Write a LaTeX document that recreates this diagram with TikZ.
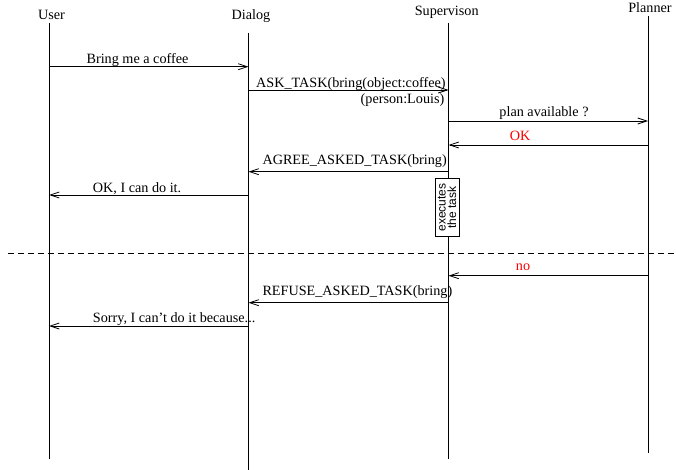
\documentclass[tikz,border=0pt]{standalone}
\usepackage{fontspec}
\setmainfont{Liberation Serif}
\newfontfamily\boxfont{Liberation Sans}
\usetikzlibrary{arrows.meta}
\definecolor{msgred}{RGB}{255,0,0}
\begin{document}
\begin{tikzpicture}[x=1pt,y=-1pt,
  font=\fontsize{14.2}{16}\selectfont,
  life/.style={line width=0.9pt},
  msg/.style={line width=0.8pt,-{Straight Barb[length=9pt,width=6pt]}},
  lbl/.style={inner sep=0pt,anchor=base},
  lblw/.style={inner sep=0pt,anchor=base west},
  lble/.style={inner sep=0pt,anchor=base east},
  redlbl/.style={lbl,text=msgred},
  taskbox/.style={draw,line width=0.8pt,fill=white,rotate=90,inner sep=0pt,
    minimum width=58pt,minimum height=24pt,align=center,
    font=\boxfont\fontsize{12}{10.5}\selectfont},
  sep/.style={line width=0.8pt,dash pattern=on 6pt off 4pt}]
\useasboundingbox (0,0) rectangle (676,470);

% headers
\node[lbl] (U) at (51.5,19.5) {User};
\node[lbl] (D) at (251,19.5) {Dialog};
\node[lbl] (S) at (446.7,16) {Supervison};
\node[lbl] (P) at (650,12.5) {Planner};

% lifelines
\coordinate (Ut) at (49,23);   \coordinate (Ub) at (49,459);
\coordinate (Dt) at (248.5,33); \coordinate (Db) at (248.5,470);
\coordinate (St) at (448.5,23); \coordinate (Sb) at (448.5,459);
\coordinate (Pt) at (648,16);  \coordinate (Pb) at (648,453);
\draw[life] (Ut) -- (Ub);
\draw[life] (Dt) -- (Db);
\draw[life] (St) -- (Sb);
\draw[life] (Pt) -- (Pb);

% message heights
\coordinate (m1) at (0,66.7);
\coordinate (m2) at (0,90);
\coordinate (m3) at (0,121);
\coordinate (m4) at (0,145);
\coordinate (m5) at (0,171.7);
\coordinate (m6) at (0,195);
\coordinate (m9) at (0,275.7);
\coordinate (m10) at (0,302.7);
\coordinate (m11) at (0,326);

\draw[msg] (Ut |- m1) -- (Dt |- m1);
\node[lbl] (l1) at (137.5,63.3) {Bring me a coffee};

\draw[msg] (Dt |- m2) -- (St |- m2);
\node[lblw] (l2) at (256,87.5) {ASK\_TASK(bring(object:coffee)};
\node[lble] (l2b) at (444.5,104) {(person:Louis)};

\draw[msg] (St |- m3) -- (Pt |- m3);
\node[lbl] (l3) at (544,116.5) {plan available ?};

\draw[msg] (Pt |- m4) -- (St |- m4);
\node[redlbl] (l4) at (520,140.7) {OK};

\draw[msg] (St |- m5) -- (Dt |- m5);
\node[lblw] (l5) at (262.3,164.5) {AGREE\_ASKED\_TASK(bring)};

\draw[msg] (Dt |- m6) -- (Ut |- m6);
\node[lblw] (l6) at (92.7,192.2) {OK, I can do it.};

\node[taskbox] (task) at (447,207.5) {executes\\the task};

% separator
\coordinate (sepL) at (8,253);
\coordinate (sepR) at (676,253);
\draw[sep] (sepL) -- (sepR);

\draw[msg] (Pt |- m9) -- (St |- m9);
\node[redlbl] (l9) at (523,270) {no};

\draw[msg] (St |- m10) -- (Dt |- m10);
\node[lblw] (l10) at (262.3,295.2) {REFUSE\_ASKED\_TASK(bring)};

\draw[msg] (Dt |- m11) -- (Ut |- m11);
\node[lblw] (l11) at (92.7,322.2) {Sorry, I can’t do it because...};
\end{tikzpicture}
\end{document}
